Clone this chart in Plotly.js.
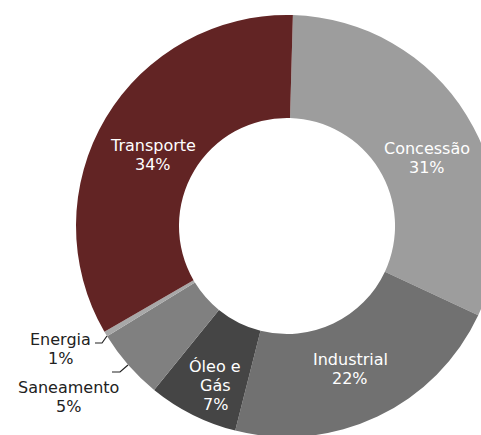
<!DOCTYPE html>
<html>
<head>
<meta charset="utf-8">
<script src="https://cdn.plot.ly/plotly-3.0.1.min.js"></script>
<style>
html,body{margin:0;padding:0;background:#fff;overflow:hidden;}
#wrap{width:481px;height:435px;overflow:hidden;position:relative;}
#chart{position:absolute;left:0;top:0;}
</style>
</head>
<body>
<div id="wrap"><div id="chart"></div></div>
<script>
// Data
const sectors = ["Concessão", "Industrial", "Óleo e Gás", "Saneamento", "Energia", "Transporte"];
const shares = [31.5, 22.0, 6.9, 5.4, 0.4, 33.8];          // measured slice sizes (%)
const printedPct = ["31%", "22%", "7%", "5%", "1%", "34%"]; // percentages as printed
const labelLines = [["Concessão"], ["Industrial"], ["Óleo e", "Gás"], ["Saneamento"], ["Energia"], ["Transporte"]];
const colors = ["#9d9d9d", "#717171", "#454545", "#808080", "#a8a8a8", "#622424"];

// Layout geometry (pixels in the plot area)
const W = 574, H = 452;
const labelPos = [[427,158],[350,369],[215,385],[68,397],[60,349],[153,155]];
const labelColor = ["#fff","#fff","#fff","#222","#222","#fff"];
const lineGap = 19;
const px = x => x / W;
const py = y => 1 - y / H;

const annotations = [];
sectors.forEach((s, i) => {
  const lines = labelLines[i].concat([printedPct[i]]);
  const n = lines.length;
  lines.forEach((t, k) => {
    const yy = labelPos[i][1] + (k - (n - 1) / 2) * lineGap;
    annotations.push({
      text: t,
      x: px(labelPos[i][0]), y: py(yy),
      xref: "paper", yref: "paper", xanchor: "center", yanchor: "middle",
      showarrow: false, borderpad: 0,
      font: {family: "DejaVu Sans, sans-serif", size: 16, color: labelColor[i]}
    });
  });
});

const leaders = [
  [[95,343],[102,343],[107,336]],
  [[112,372],[120,372],[128,365]]
];
const shapes = leaders.map(pts => ({
  type: "path", xref: "paper", yref: "paper",
  path: "M " + pts.map(p => px(p[0]) + "," + py(p[1])).join(" L "),
  line: {color: "#222", width: 1.2}
}));

const trace = {
  type: "pie",
  labels: sectors,
  values: shares,
  sort: false,
  direction: "clockwise",
  rotation: 1.6,
  hole: 0.512,
  textinfo: "none",
  hoverinfo: "label+percent",
  marker: {colors: colors, line: {width: 0}},
  domain: {x: [0, 1], y: [15 / H, 437 / H]},
  showlegend: false
};

Plotly.newPlot("chart", [trace], {
  width: W, height: H,
  margin: {l: 0, r: 0, t: 0, b: 0},
  paper_bgcolor: "#fff",
  annotations: annotations,
  shapes: shapes
}, {displayModeBar: false, staticPlot: true});
</script>
</body>
</html>
